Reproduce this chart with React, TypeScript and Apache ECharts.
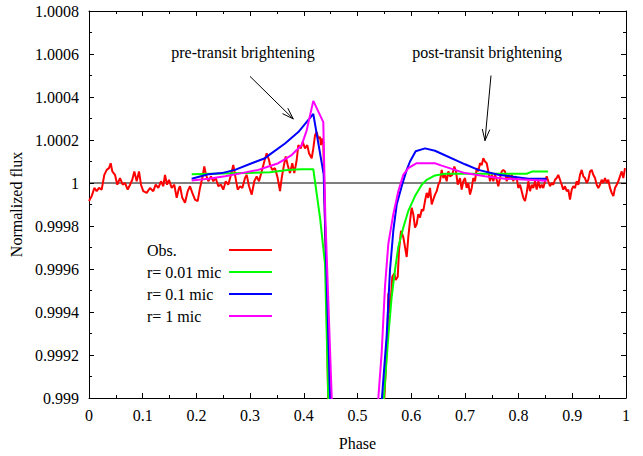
import React, { useEffect, useRef } from "react";
import * as echarts from "echarts";

// Flux values stored as deviation from 1 in ppm (1e-6 units).
const xTickLabels = ["0", "0.1", "0.2", "0.3", "0.4", "0.5", "0.6", "0.7", "0.8", "0.9", "1"];
const yTickLabels = ["0.999", "0.9992", "0.9994", "0.9996", "0.9998", "1", "1.0002", "1.0004", "1.0006", "1.0008"];

const seriesNames = ["Obs.", "r= 0.01 mic", "r= 0.1 mic", "r= 1 mic"];

const obs: [number, number][] = [
  [0.0, -84], [0.005, -61], [0.0099, -23], [0.0143, -38], [0.0186, -23], [0.0236, -31], [0.0285, 38],
  [0.033, 61], [0.0372, 69], [0.0404, 92], [0.0434, 54], [0.0484, 38], [0.0527, -8], [0.0577, 23],
  [0.0628, -8], [0.067, 0], [0.0721, -31], [0.0764, -8], [0.0806, 15], [0.0844, 54], [0.0888, 8],
  [0.0931, 54], [0.0968, -8], [0.1011, -38], [0.1074, -46], [0.1136, -23], [0.1197, -38], [0.1242, -8],
  [0.1291, -23], [0.1341, 8], [0.1384, -15], [0.1415, 38], [0.1453, -8], [0.149, 15], [0.154, -23],
  [0.1588, -8], [0.1633, -69], [0.1676, -23], [0.1695, -15], [0.1737, -69], [0.1788, -92], [0.1838, -38],
  [0.1881, -15], [0.1924, -46], [0.1974, -77], [0.2024, -84], [0.2067, -23], [0.211, 23], [0.2147, 77],
  [0.2179, 38], [0.2222, 8], [0.2272, 31], [0.2315, 8], [0.2359, 23], [0.2408, -15], [0.2458, -8],
  [0.2501, -31], [0.2546, 8], [0.2594, -8], [0.2644, 38], [0.2687, 84], [0.2719, 38], [0.2769, -31],
  [0.2812, -15], [0.2855, -23], [0.2905, 23], [0.2937, 38], [0.298, -15], [0.303, -54], [0.3078, 8],
  [0.3123, 31], [0.3166, 8], [0.3216, 54], [0.3264, 100], [0.3309, 138], [0.3352, 107], [0.3371, 84],
  [0.3413, 61], [0.3464, 69], [0.3514, 23], [0.3557, -38], [0.3588, 23], [0.3631, 84], [0.3663, 123],
  [0.37, 84], [0.3743, 46], [0.3786, 92], [0.3823, 46], [0.3868, 107], [0.3898, 176], [0.3942, 161],
  [0.398, 191], [0.4022, 161], [0.4065, 176], [0.4097, 138], [0.4147, 115], [0.4177, 161], [0.4209, 222],
  [0.424, 237], [0.427, 207], [0.4302, 214], [0.432, 176], [0.4345, 207], [0.4363, 191], [0.438, 0],
  [0.442, -500], [0.446, -1100], [0.5, -8000], [0.548, -1100], [0.556, -700], [0.5574, -513],
  [0.559, -605], [0.5624, -528], [0.5648, -436], [0.5685, -421], [0.5711, -451], [0.5749, -436],
  [0.5773, -313], [0.581, -222], [0.5853, -252], [0.5885, -298], [0.5916, -344], [0.5946, -252],
  [0.5978, -176], [0.6009, -115], [0.6039, -145], [0.6071, -207], [0.6102, -191], [0.6132, -145],
  [0.6164, -161], [0.6196, -123], [0.6225, -130], [0.6257, -84], [0.6289, -46], [0.6318, -69],
  [0.635, -23], [0.6382, -100], [0.6412, -77], [0.6443, -54], [0.6475, -38], [0.6505, -8], [0.6536, 8],
  [0.6568, 61], [0.6598, 23], [0.6629, 38], [0.6661, 8], [0.6691, 54], [0.6723, 31], [0.6766, 38],
  [0.6803, 77], [0.6834, 54], [0.6866, -8], [0.6909, 23], [0.694, -31], [0.697, 8], [0.7002, 23],
  [0.7033, -23], [0.7063, 0], [0.7095, -54], [0.7127, -23], [0.7156, 23], [0.7188, 8], [0.722, 69],
  [0.725, 54], [0.7281, 92], [0.7313, 84], [0.7343, 115], [0.7374, 100], [0.7406, 92], [0.7436, 54],
  [0.7467, 8], [0.7499, 38], [0.7529, 8], [0.7561, 38], [0.7592, 15], [0.7622, -15], [0.7654, 23],
  [0.7685, 54], [0.7715, 61], [0.7747, 54], [0.7778, 8], [0.7808, 38], [0.784, 23], [0.7872, 38],
  [0.7901, 8], [0.7933, 31], [0.7965, 23], [0.7994, -23], [0.8026, -8], [0.8058, -38], [0.8088, -69],
  [0.8119, -84], [0.8151, -46], [0.8181, 8], [0.8212, -38], [0.8244, -8], [0.8274, -23], [0.8305, 8],
  [0.8337, -31], [0.8367, 8], [0.8399, -23], [0.843, -8], [0.846, -23], [0.8492, 8], [0.8523, 31],
  [0.8553, 8], [0.8585, -15], [0.8616, 0], [0.8646, -8], [0.8678, 15], [0.8709, 23], [0.8739, 38],
  [0.8771, 15], [0.8803, -8], [0.8832, -31], [0.8864, -15], [0.8896, -38], [0.8926, -31], [0.8957, -77],
  [0.8989, -31], [0.9019, -15], [0.905, -23], [0.9082, 8], [0.9112, -8], [0.9143, 38], [0.9175, 61],
  [0.9205, 31], [0.9236, 23], [0.9268, 0], [0.9298, 15], [0.933, 54], [0.9361, 61], [0.9391, 38],
  [0.9423, 23], [0.9454, -8], [0.9484, -23], [0.9516, -8], [0.9547, 15], [0.9577, 0], [0.9609, 23],
  [0.9641, 0], [0.967, 15], [0.9702, -23], [0.9734, -46], [0.9764, -61], [0.9795, -23], [0.9827, -8],
  [0.9857, 8], [0.9888, 31], [0.992, 54], [0.995, 23], [0.9981, 69]
];

const modelR001: [number, number][] = [
  [0.1912, 41], [0.25, 44], [0.337, 50], [0.37, 60], [0.395, 64], [0.4177, 64], [0.4302, -161],
  [0.4395, -376], [0.4456, -1000], [0.5, -8000], [0.549, -1000], [0.5574, -711], [0.5637, -528],
  [0.5698, -405], [0.576, -298], [0.5853, -207], [0.5946, -130], [0.6071, -61], [0.6196, -8],
  [0.6289, 15], [0.6443, 35], [0.6629, 43], [0.7095, 43], [0.815, 43], [0.826, 54], [0.855, 54]
];

const modelR01: [number, number][] = [
  [0.1912, 20], [0.2222, 41], [0.2471, 46], [0.2719, 61], [0.303, 92], [0.3277, 115], [0.337, 133],
  [0.365, 184], [0.3898, 237], [0.4177, 321], [0.437, 40], [0.449, -1000], [0.5, -8000], [0.544, -1050],
  [0.5543, -711], [0.5605, -405], [0.5667, -222], [0.573, -100], [0.5823, -15], [0.5916, 61],
  [0.5978, 100], [0.6083, 148], [0.6257, 161], [0.6443, 150], [0.7002, 87], [0.725, 61], [0.7622, 38],
  [0.7933, 28], [0.8181, 20], [0.8523, 20]
];

const modelR1: [number, number][] = [
  [0.1912, 12], [0.2222, 20], [0.2533, 31], [0.2844, 46], [0.3153, 61], [0.337, 79], [0.3526, 92],
  [0.3774, 130], [0.396, 176], [0.4054, 245], [0.4177, 382], [0.4363, 283], [0.44, -150], [0.452, -1000],
  [0.5, -8000], [0.5388, -1000], [0.545, -790], [0.5512, -482], [0.5574, -283], [0.5667, -145],
  [0.576, -38], [0.5853, 38], [0.5946, 69], [0.6102, 92], [0.6443, 92], [0.6568, 81], [0.7002, 46],
  [0.7374, 31], [0.7747, 20], [0.8523, 11]
];

const baseline: [number, number][] = [[0, 0], [1, 0]];

const annotations = [
  { text: "pre-transit brightening", at: [0.2868, 605], tail: [0.2998, 496], tip: [0.3804, 298] },
  { text: "post-transit brightening", at: [0.7412, 605], tail: [0.7486, 500], tip: [0.7374, 197] }
];

const FONT = "Liberation Serif";

export default function App() {
  const ref = useRef<HTMLDivElement>(null);
  useEffect(() => {
    if (!ref.current) return;
    const chart = echarts.init(ref.current, null, { renderer: "svg" });
    const xMin = 0, xMax = 1, xStep = 0.1;
    const yMin = -1000, yMax = 800, yStep = 200;
    const axisCommon = {
      axisLine: { show: true, onZero: false, lineStyle: { color: "#000", width: 1 } },
      axisTick: { show: true, inside: true, length: 5, lineStyle: { color: "#000" } },
      minorTick: { show: true, splitNumber: 2, length: 3, lineStyle: { color: "#000" } },
      splitLine: { show: false },
      minorSplitLine: { show: false }
    };
    const lineSeries = (name: string, data: [number, number][], color: string, z: number) => ({
      name,
      type: "line",
      data,
      showSymbol: false,
      symbol: "none",
      clip: true,
      z,
      lineStyle: { color, width: 2 },
      itemStyle: { color }
    });
    chart.setOption({
      animation: false,
      backgroundColor: "#fff",
      textStyle: { fontFamily: FONT, color: "#000" },
      grid: { left: 89, right: 17, top: 11, bottom: 52, containLabel: false },
      legend: {
        data: seriesNames,
        orient: "vertical",
        left: 142,
        top: 237,
        align: "right",
        icon: "rect",
        itemWidth: 43,
        itemHeight: 2,
        itemGap: 6,
        formatter: "{a|{name}}",
        textStyle: {
          fontFamily: FONT, fontSize: 16, color: "#000", lineHeight: 16,
          rich: { a: { width: 77, align: "left", fontFamily: FONT, fontSize: 16, color: "#000", lineHeight: 16 } }
        }
      },
      xAxis: [
        {
          type: "value", min: xMin, max: xMax, interval: xStep, position: "bottom",
          name: "Phase", nameLocation: "middle", nameGap: 37,
          nameTextStyle: { fontFamily: FONT, fontSize: 16, color: "#000" },
          axisLabel: {
            margin: 9, fontFamily: FONT, fontSize: 16, color: "#000",
            formatter: (v: number) => xTickLabels[Math.round((v - xMin) / xStep)] ?? ""
          },
          ...axisCommon
        },
        {
          type: "value", min: xMin, max: xMax, interval: xStep, position: "top",
          axisLabel: { show: false }, ...axisCommon
        }
      ],
      yAxis: [
        {
          type: "value", min: yMin, max: yMax, interval: yStep, position: "left",
          name: "Normalized flux", nameLocation: "middle", nameGap: 57,
          nameTextStyle: { fontFamily: FONT, fontSize: 16, color: "#000" },
          axisLabel: {
            margin: 10, fontFamily: FONT, fontSize: 16, color: "#000",
            formatter: (v: number) => yTickLabels[Math.round((v - yMin) / yStep)] ?? ""
          },
          ...axisCommon
        },
        {
          type: "value", min: yMin, max: yMax, interval: yStep, position: "right",
          axisLabel: { show: false }, ...axisCommon
        }
      ],
      series: [
        {
          name: "baseline", type: "line", data: baseline, showSymbol: false, symbol: "none",
          z: 1, lineStyle: { color: "#000", width: 1 }, silent: true
        },
        lineSeries(seriesNames[0], obs, "#ff0000", 2),
        lineSeries(seriesNames[1], modelR001, "#00ff00", 3),
        lineSeries(seriesNames[2], modelR01, "#0000ff", 4),
        lineSeries(seriesNames[3], modelR1, "#ff00ff", 5)
      ]
    });

    const toPx = (p: number[]) => chart.convertToPixel({ seriesIndex: 0 }, p) as number[];
    const graphics: any[] = [];
    annotations.forEach((a) => {
      const c = toPx(a.at);
      graphics.push({
        type: "text", x: c[0], y: c[1],
        style: { text: a.text, fontFamily: FONT, fontSize: 16, fill: "#000", align: "center", verticalAlign: "middle" }
      });
      const t = toPx(a.tail);
      const h = toPx(a.tip);
      graphics.push({
        type: "line",
        shape: { x1: t[0], y1: t[1], x2: h[0], y2: h[1] },
        style: { stroke: "#000", lineWidth: 1 }
      });
      const ang = Math.atan2(t[1] - h[1], t[0] - h[0]);
      const L = 12, da = 0.32;
      const p1 = [h[0] + L * Math.cos(ang + da), h[1] + L * Math.sin(ang + da)];
      const p2 = [h[0] + L * Math.cos(ang - da), h[1] + L * Math.sin(ang - da)];
      graphics.push({
        type: "polyline",
        shape: { points: [p1, h, p2] },
        style: { stroke: "#000", lineWidth: 1, fill: null }
      });
    });
    chart.setOption({ graphic: graphics });
    return () => chart.dispose();
  }, []);
  return (
    <div
      ref={ref}
      style={{ position: "fixed", left: 0, top: 0, width: 643, height: 456, background: "#fff" }}
    />
  );
}
